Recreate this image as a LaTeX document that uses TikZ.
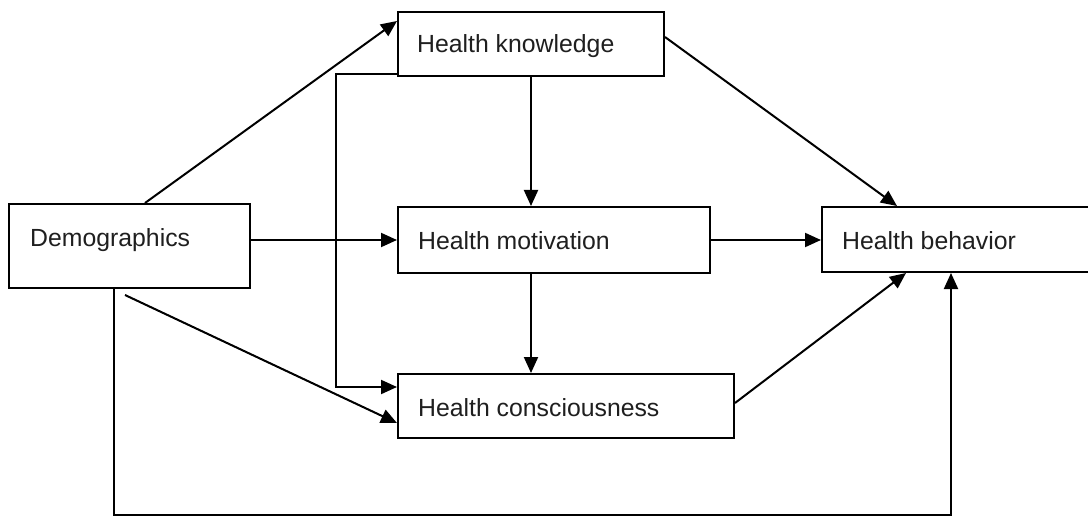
\documentclass[tikz,border=0pt]{standalone}
\usepackage{fontspec}
\setmainfont{Liberation Sans}
\usetikzlibrary{arrows.meta}
\begin{document}
\begin{tikzpicture}[x=1pt,y=-1pt,
  box/.style={draw=black, line width=2pt, rectangle, inner sep=0pt, anchor=north west},
  lbl/.style={anchor=base west, inner sep=0pt, text=black!88,
    font=\fontsize{24.8}{30}\selectfont},
  arr/.style={line width=2pt, -{Triangle[length=16pt,width=14pt]}}]
\clip (0,0) rectangle (1088,516);
\fill[white] (0,0) rectangle (1088,516);

% boxes
\node[box, minimum width=241pt, minimum height=84pt] (demo) at (8,203) {};
\node[box, minimum width=266pt, minimum height=64pt] (hk) at (397,11) {};
\node[box, minimum width=312pt, minimum height=66pt] (hm) at (397,206) {};
\node[box, minimum width=300pt, minimum height=65pt] (hb) at (821,206) {};
\node[box, minimum width=336pt, minimum height=64pt] (hc) at (397,373) {};

% labels
\node[lbl] (demo-t) at (30,247) {Demographics};
\node[lbl] (hk-t) at (417,53) {Health knowledge};
\node[lbl] (hm-t) at (418,250) {Health motivation};
\node[lbl] (hb-t) at (842,250) {Health behavior};
\node[lbl] (hc-t) at (418,416) {Health consciousness};

% connectors
\draw[arr] ([xshift=137pt]demo.north west) -- ([yshift=-10pt]hk.north west);
\draw[arr] ([yshift=3pt]hk.south west) -- ++(-61,0) |- ([yshift=-14pt]hc.north west);
\draw[arr] (hk.south) -- (hk.south |- hm.north);
\draw[arr] (demo.east |- hm.west) -- (hm.west);
\draw[arr] (hm.east) -- (hm.east -| hb.west);
\draw[arr] ([yshift=-26pt]hk.north east) -- ([xshift=76pt]hb.north west);
\draw[arr] (hk.south |- hm.south) -- (hk.south |- hc.north);
\draw[arr] ([xshift=117pt,yshift=-6pt]demo.south west) -- ([yshift=-50pt]hc.north west);
\draw[arr] ([xshift=106pt]demo.south west) -- ++(0,226) -| ([xshift=130pt]hb.south west);
\draw[arr] ([yshift=-30pt]hc.north east) -- ([xshift=85pt]hb.south west);
\end{tikzpicture}
\end{document}
